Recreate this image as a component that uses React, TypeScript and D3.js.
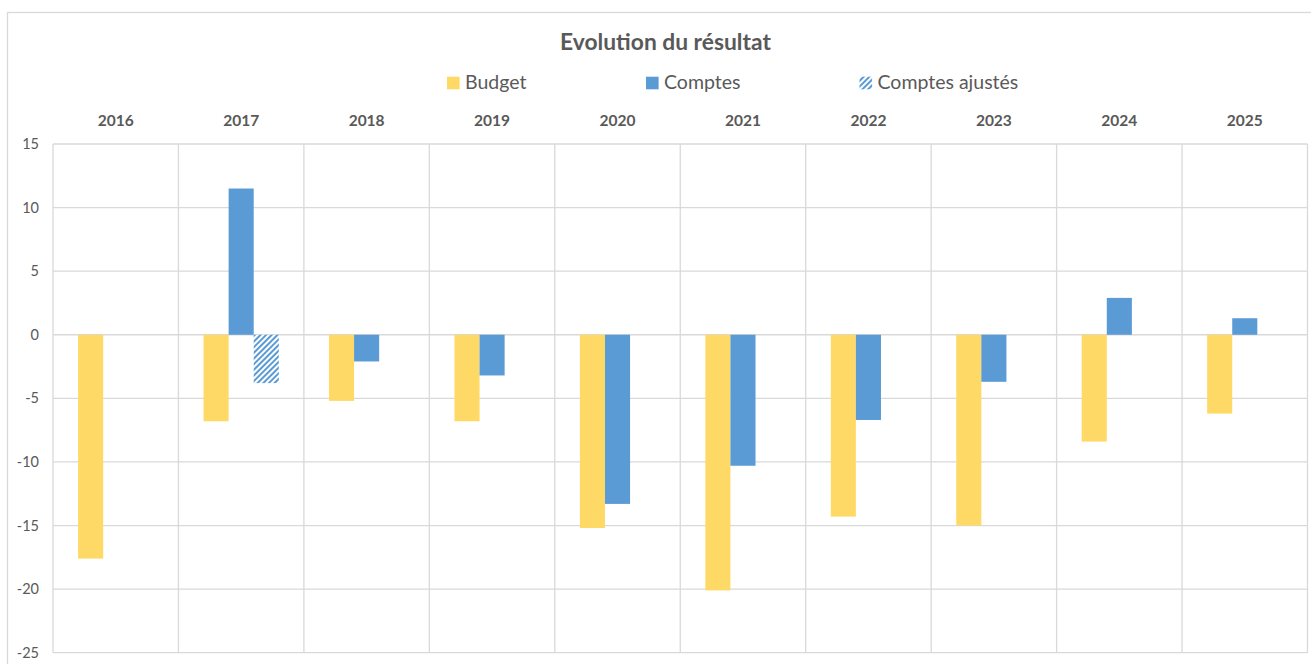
import * as d3 from "d3";

const years = ["2016", "2017", "2018", "2019", "2020", "2021", "2022", "2023", "2024", "2025"];
const budget = [-17.6, -6.8, -5.2, -6.8, -15.2, -20.1, -14.3, -15.0, -8.4, -6.2];
const comptes = [null, 11.5, -2.1, -3.2, -13.3, -10.3, -6.7, -3.7, 2.9, 1.3];
const comptesAjustes = [null, -3.8, null, null, null, null, null, null, null, null];
const yTicks = [15, 10, 5, 0, -5, -10, -15, -20, -25];
const seriesNames = ["Budget", "Comptes", "Comptes ajustés"];

const W = 1311;
const H = 664;
const margin = { left: 53, right: 3.5, top: 144, bottom: 11.3 };
const FONT = "Lato, 'Open Sans', sans-serif";
const TEXT = "#595959";
const GRID = "#d9d9d9";
const GOLD = "#ffd966";
const BLUE = "#5b9bd5";

export default function App() {
  const x = d3.scaleBand<string>().domain(years).range([margin.left, W - margin.right]).padding(0);
  const x1 = d3
    .scaleBand<string>()
    .domain(seriesNames)
    .range([0, x.bandwidth()])
    .paddingInner(0)
    .paddingOuter(1);
  const y = d3.scaleLinear().domain([-25, 15]).range([H - margin.bottom, margin.top]);

  const series = [
    { name: "Budget", values: budget, fill: GOLD },
    { name: "Comptes", values: comptes, fill: BLUE },
    { name: "Comptes ajustés", values: comptesAjustes, fill: "url(#hatch)" },
  ];

  // legend swatch left edges
  const legend = [
    { name: "Budget", x: 447, fill: GOLD },
    { name: "Comptes", x: 646, fill: BLUE },
    { name: "Comptes ajustés", x: 859.5, fill: "url(#hatch)" },
  ];

  return (
    <svg
      width={W}
      height={H}
      style={{ position: "absolute", left: 0, top: 0, display: "block", background: "#fff" }}
      fontFamily={FONT}
    >
      <defs>
        <pattern id="hatch" patternUnits="userSpaceOnUse" width="4" height="4" patternTransform="rotate(45)">
          <rect width="4" height="4" fill="#fff" />
          <rect width="2" height="4" fill={BLUE} />
        </pattern>
      </defs>

      {/* chart frame */}
      <rect x={7.5} y={12.5} width={W} height={H} fill="none" stroke={GRID} strokeWidth={1.3} />

      <text x={665.5} y={50} textAnchor="middle" fontSize={22.8} fontWeight="bold" fill={TEXT}>
        Evolution du résultat
      </text>

      {legend.map((l) => (
        <g key={l.name}>
          <rect x={l.x} y={76.7} width={12.6} height={12.6} fill={l.fill} />
          <text x={l.x + 18} y={89} fontSize={19.5} fill={TEXT}>
            {l.name}
          </text>
        </g>
      ))}

      {/* horizontal gridlines */}
      {yTicks.map((t) => (
        <g key={t}>
          <line x1={margin.left} x2={W - margin.right} y1={y(t)} y2={y(t)} stroke={GRID} strokeWidth={1.3} />
          <text x={39} y={y(t) + 5} textAnchor="end" fontSize={14.5} fill={TEXT}>
            {t}
          </text>
        </g>
      ))}

      {/* vertical category gridlines */}
      {[...years.map((d) => x(d)!), W - margin.right].map((v, i) => (
        <line key={i} x1={v} x2={v} y1={margin.top} y2={H - margin.bottom} stroke={GRID} strokeWidth={1.3} />
      ))}

      {years.map((yr) => (
        <text
          key={yr}
          x={x(yr)! + x.bandwidth() / 2}
          y={126}
          textAnchor="middle"
          fontSize={15.5}
          fontWeight="bold"
          fill={TEXT}
        >
          {yr}
        </text>
      ))}

      {series.map((s) =>
        s.values.map((v, i) =>
          v == null ? null : (
            <rect
              key={s.name + i}
              x={x(years[i])! + x1(s.name)!}
              width={x1.bandwidth()}
              y={y(Math.max(0, v))}
              height={Math.abs(y(v) - y(0))}
              fill={s.fill}
            />
          )
        )
      )}
    </svg>
  );
}
